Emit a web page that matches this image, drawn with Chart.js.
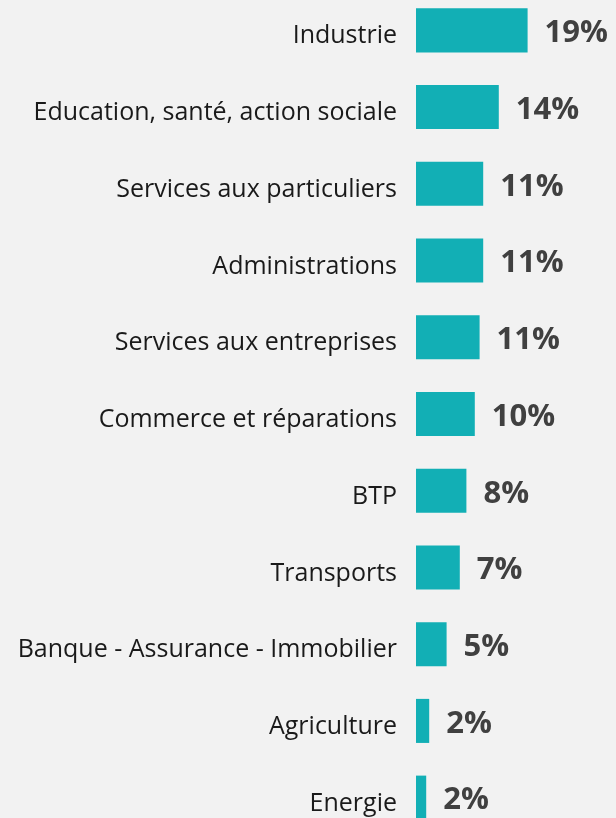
<!DOCTYPE html>
<html>
<head>
<meta charset="utf-8">
<script src="https://cdn.jsdelivr.net/npm/chart.js@4/dist/chart.umd.min.js"></script>
<style>
  html, body { margin: 0; padding: 0; background: #f2f2f2; overflow: hidden; }
  body { width: 616px; height: 818px; position: relative; }
  #wrap { position: absolute; left: 0; top: -8px; width: 616px; height: 844px; }
</style>
</head>
<body>
<div id="wrap"><canvas id="chart"></canvas></div>
<script>
const categories = [
  "Industrie",
  "Education, santé, action sociale",
  "Services aux particuliers",
  "Administrations",
  "Services aux entreprises",
  "Commerce et réparations",
  "BTP",
  "Transports",
  "Banque - Assurance - Immobilier",
  "Agriculture",
  "Energie"
]
const shares = [18.6, 13.8, 11.2, 11.2, 10.6, 9.8, 8.4, 7.3, 5.1, 2.2, 1.7]

const barColor = "#12afb5"

// draws the % next to each bar
const valueLabels = {
  id: "valueLabels",
  afterDatasetsDraw(chart) {
    const ctx = chart.ctx
    const meta = chart.getDatasetMeta(0)
    ctx.save()
    ctx.font = "bold 31px 'Open Sans'"
    ctx.fillStyle = "#404040"
    ctx.textAlign = "left"
    ctx.textBaseline = "middle"
    meta.data.forEach((bar, i) => {
      ctx.fillText(Math.round(shares[i]) + "%", bar.x + 17, bar.y + 3)
    })
    ctx.restore()
  }
}

new Chart(document.getElementById("chart"), {
  type: "bar",
  data: {
    labels: categories,
    datasets: [{
      data: shares,
      backgroundColor: barColor,
      borderWidth: 0,
      barPercentage: 0.574,
      categoryPercentage: 1
    }]
  },
  options: {
    indexAxis: "y",
    responsive: true,
    maintainAspectRatio: false,
    animation: false,
    layout: { padding: 0 },
    plugins: {
      legend: { display: false },
      tooltip: { enabled: false }
    },
    scales: {
      x: {
        display: false,
        min: 0,
        max: 200 / 6
      },
      y: {
        grid: { display: false, drawTicks: false },
        border: { display: false },
        ticks: {
          color: "#1a1a1a",
          font: { family: "'Open Sans'", size: 25 },
          padding: 19,
          labelOffset: 6
        },
        afterFit(scale) {
          scale.width = 416
          scale.paddingTop = 0
          scale.paddingBottom = 0
        }
      }
    }
  },
  plugins: [valueLabels]
})
</script>
</body>
</html>
